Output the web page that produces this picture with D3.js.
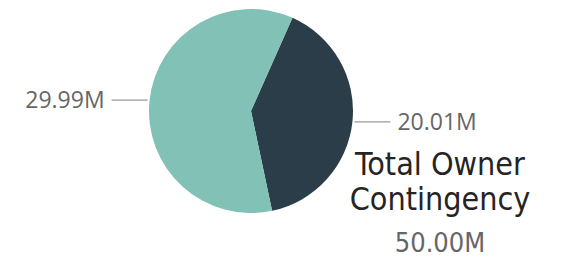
<!DOCTYPE html>
<html><head><meta charset="utf-8">
<script src="https://cdn.jsdelivr.net/npm/d3@7"></script>
<style>html,body{margin:0;padding:0;background:#fff;}svg{display:block;}</style>
</head><body>
<svg id="chart" width="565" height="259"></svg>
<script>
const categories = ["Remaining", "Used"];
const values = [20.01, 29.99];
const valueLabels = ["20.01M", "29.99M"];
const colors = ["#2B3D49", "#82C1B5"];
const titleLines = ["Total Owner", "Contingency"];
const totalLabel = "50.00M";

const svg = d3.select("#chart");
const cx = 251, cy = 111, r = 102;
const startAngle = 24 * Math.PI / 180;

const pie = d3.pie().sort(null).value(d => d.v)
  .startAngle(startAngle).endAngle(startAngle + 2 * Math.PI);
const data = categories.map((c, i) => ({c, v: values[i], label: valueLabels[i], color: colors[i]}));
const arcs = pie(data);
const arc = d3.arc().innerRadius(0).outerRadius(r);

const g = svg.append("g").attr("transform", `translate(${cx},${cy})`);
g.selectAll("path.slice").data(arcs).join("path")
  .attr("class", "slice")
  .attr("d", arc)
  .attr("fill", d => d.data.color);

arcs.forEach(a => {
  const mid = (a.startAngle + a.endAngle) / 2;
  const x0 = Math.sin(mid) * (r + 2), y0 = -Math.cos(mid) * (r + 2);
  const side = Math.sin(mid) >= 0 ? 1 : -1;
  const x1 = x0 + side * 36;
  g.append("line").attr("x1", x0).attr("y1", y0).attr("x2", x1).attr("y2", y0)
    .attr("stroke", "#9a9a9a").attr("stroke-width", 1.2);
  g.append("text")
    .attr("x", x1 + side * 7).attr("y", y0 + 8)
    .attr("text-anchor", side > 0 ? "start" : "end")
    .attr("font-family", "'Open Sans', 'Noto Sans', sans-serif")
    .attr("font-size", 23)
    .attr("fill", "#666666")
    .text(a.data.label);
});

const tx = 440;
const tf = "'DejaVu Sans Condensed', 'Roboto', sans-serif";
svg.append("text").attr("x", tx).attr("y", 175).attr("text-anchor", "middle")
  .attr("font-family", tf).attr("font-size", 32).attr("fill", "#252423").text(titleLines[0]);
svg.append("text").attr("x", tx).attr("y", 210).attr("text-anchor", "middle")
  .attr("font-family", tf).attr("font-size", 32).attr("fill", "#252423").text(titleLines[1]);
svg.append("text").attr("x", tx).attr("y", 252).attr("text-anchor", "middle")
  .attr("font-family", tf).attr("font-size", 27).attr("fill", "#666666").text(totalLabel);
</script>
</body></html>
